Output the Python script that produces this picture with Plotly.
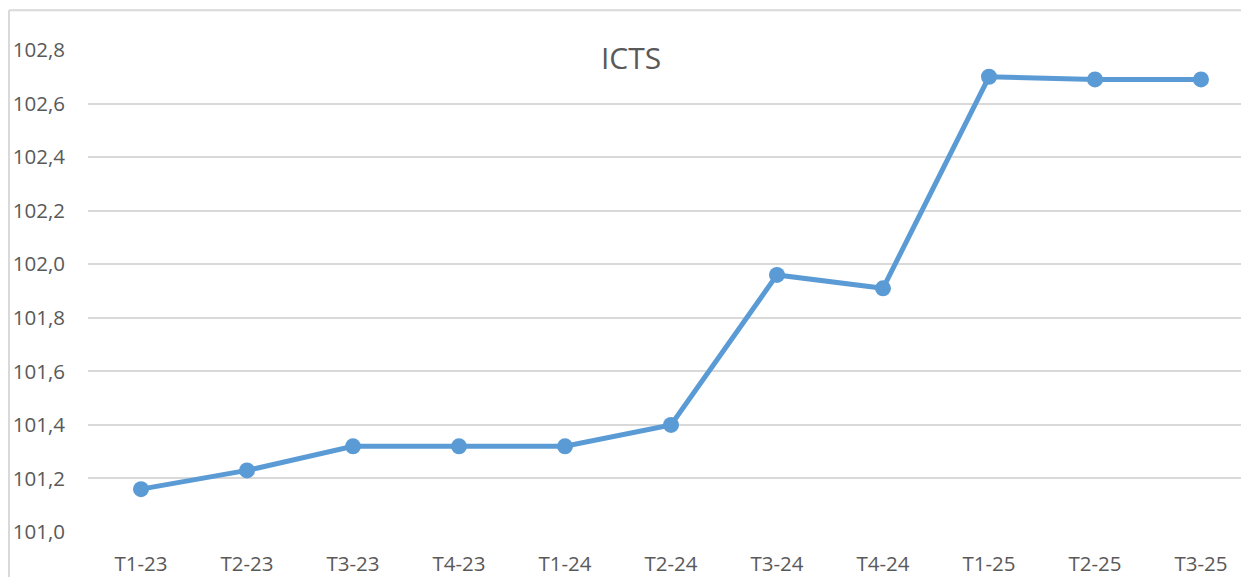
import plotly.graph_objects as go

categories = ["T1-23", "T2-23", "T3-23", "T4-23", "T1-24", "T2-24",
              "T3-24", "T4-24", "T1-25", "T2-25", "T3-25"]
icts_values = [101.16, 101.23, 101.32, 101.32, 101.32, 101.40,
               101.96, 101.91, 102.70, 102.69, 102.69]
y_tick_values = [101.0, 101.2, 101.4, 101.6, 101.8, 102.0, 102.2, 102.4, 102.6, 102.8]
y_tick_labels = ["101,0", "101,2", "101,4", "101,6", "101,8",
                 "102,0", "102,2", "102,4", "102,6", "102,8"]
title_text = "ICTS"

# page body has an 8px margin, so the figure starts at (8, 8)
W, H = 1241, 569
L, R, T, B = 80, 0, 42, 43
plot_w = W - L - R
plot_h = H - T - B

font_family = "Open Sans, Liberation Sans, sans-serif"
text_color = "#595959"
grid_color = "#d9d9d9"
line_color = "#5b9bd5"

fig = go.Figure()
fig.add_trace(go.Scatter(
    x=list(range(len(categories))),
    y=icts_values,
    mode="lines+markers",
    line=dict(color=line_color, width=5),
    marker=dict(color=line_color, size=16),
    cliponaxis=False,
    hoverinfo="x+y",
))

x_span = plot_w / 106.0

fig.update_layout(
    width=W, height=H,
    margin=dict(l=L, r=R, t=T, b=B, pad=0),
    paper_bgcolor="white",
    plot_bgcolor="white",
    showlegend=False,
    title=dict(
        text=title_text,
        x=623 / W, xanchor="center", xref="container",
        y=1 - 50 / H, yanchor="middle", yref="container",
        font=dict(family=font_family, size=30, color=text_color),
    ),
    xaxis=dict(
        range=[-0.5, -0.5 + x_span],
        tickmode="array",
        tickvals=list(range(len(categories))),
        ticktext=categories,
        showgrid=False,
        zeroline=False,
        showline=False,
        ticks="",
        ticklabelstandoff=17,
        tickfont=dict(family=font_family, size=20.5, color=text_color),
        fixedrange=True,
    ),
    yaxis=dict(
        range=[101.0, 102.8],
        tickmode="array",
        tickvals=y_tick_values,
        ticktext=y_tick_labels,
        showgrid=True,
        gridcolor=grid_color,
        gridwidth=1.5,
        zeroline=False,
        showline=False,
        ticks="",
        ticklabelstandoff=22,
        tickfont=dict(family=font_family, size=20.5, color=text_color),
        fixedrange=True,
    ),
)

# outer chart frame (left and top edges visible)
x0_paper = (1 - L) / plot_w
y_top_paper = 1 + (T - 2) / plot_h
fig.add_shape(type="line", xref="paper", yref="paper",
              x0=x0_paper, x1=1.01, y0=y_top_paper, y1=y_top_paper,
              line=dict(color=grid_color, width=2), layer="below")
fig.add_shape(type="line", xref="paper", yref="paper",
              x0=x0_paper, x1=x0_paper, y0=y_top_paper, y1=-0.2,
              line=dict(color=grid_color, width=2), layer="below")

fig.write_html("out.html")
